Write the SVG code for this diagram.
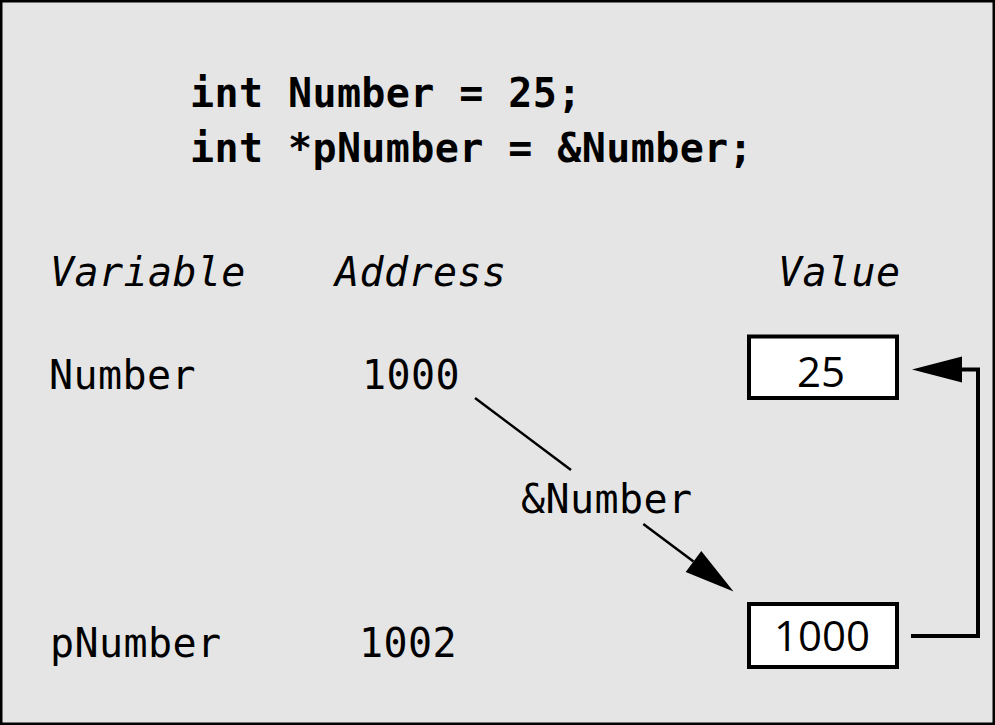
<svg xmlns="http://www.w3.org/2000/svg" width="995" height="725" viewBox="0 0 995 725">
<style>
.mono{font-family:"DejaVu Sans Mono","Liberation Mono",monospace;font-size:40px;fill:#000;letter-spacing:0.4px}
.code{font-weight:bold}
.hdr{font-style:italic}
.box{fill:#fff;stroke:#000;stroke-width:4}
.val{font-family:"Open Sans","Noto Sans","Liberation Sans",sans-serif;font-size:42px;fill:#000;text-anchor:middle}
.conn{fill:none;stroke:#000;stroke-linejoin:miter}
</style>
<defs>
<marker id="ah" markerUnits="userSpaceOnUse" markerWidth="52" markerHeight="28" refX="0" refY="13" orient="auto" overflow="visible">
<path d="M0,0 L50,13 L0,26 Z" fill="#000"/>
</marker>
</defs>
<rect x="1.25" y="1.25" width="992.5" height="722.5" fill="#e5e5e5" stroke="#000" stroke-width="2.5"/>
<g id="code">
<text class="mono code" x="190" y="107">int Number = 25;</text>
<text class="mono code" x="190" y="162">int *pNumber = &amp;Number;</text>
</g>
<g id="headers">
<text class="mono hdr" x="50" y="286">Variable</text>
<text class="mono hdr" x="335" y="286">Address</text>
<text class="mono hdr" x="778" y="286">Value</text>
</g>
<g id="row-number">
<text class="mono" x="49" y="389">Number</text>
<text class="mono" x="362" y="389">1000</text>
</g>
<g id="row-pnumber">
<text class="mono" x="50" y="657">pNumber</text>
<text class="mono" x="359" y="657">1002</text>
</g>
<g id="value-number">
<rect class="box" x="749" y="336.5" width="148" height="61.5"/>
<text class="val" x="821" y="387">25</text>
</g>
<g id="value-pnumber">
<rect class="box" x="749" y="604" width="148" height="63"/>
<text class="val" x="822" y="651">1000</text>
</g>
<g id="connectors">
<line class="conn" x1="475" y1="398" x2="571" y2="470" stroke-width="2.5"/>
<text class="mono" x="521" y="513">&amp;Number</text>
<line class="conn" x1="643.3" y1="523.9" x2="693.5" y2="561.5" stroke-width="2.5" marker-end="url(#ah)"/>
<path class="conn" d="M911,636 H978 V369.5 H962" stroke-width="4" marker-end="url(#ah)"/>
</g>
</svg>
